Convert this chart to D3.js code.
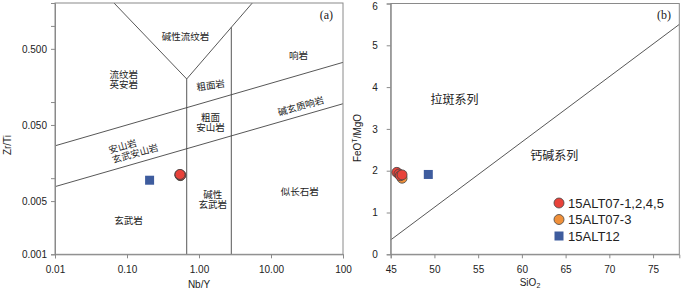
<!DOCTYPE html>
<html>
<head>
<meta charset="utf-8">
<script src="https://cdn.jsdelivr.net/npm/d3@7"></script>
<style>
  body { margin: 0; background: #fff; }
  svg text { font-family: "Liberation Sans", Arial, sans-serif; fill: #222; }
  .cn { font-family: "Noto Sans CJK SC", sans-serif; }
</style>
</head>
<body>
<div id="chart"></div>
<script>
// ---- data: panel (a) Zr/Ti vs Nb/Y ----
const nbyTicks = [0.01, 0.1, 1, 10, 100];
const nbyTickLabels = ["0.01", "0.10", "1.00", "10.00", "100"];
const zrtiTicks = [0.001, 0.005, 0.01, 0.05, 0.1, 0.5, 1];
const zrtiTickLabels = ["0.001", "0.005", "", "0.050", "", "0.500", ""];

// field boundaries [Nb/Y, Zr/Ti]
const boundaryA = [
    [[0.066, 2], [0.675, 0.201], [5.5, 2]],
    [[0.675, 0.201], [0.675, 0.001]],
    [[2.81, 0.96], [2.81, 0.001]],
    [[0.01, 0.0266], [100, 0.332]],
    [[0.01, 0.00774], [100, 0.095]]
];

// samples
const redA = [[0.54, 0.0111], [0.55, 0.0109], [0.56, 0.0110], [0.545, 0.0112]];
const orangeA = [[0.55, 0.0108]];
const blueA = [[0.206, 0.0094]];

// field names: [text, Nb/Y, Zr/Ti, rotate]
const fieldsA = [
    ["碱性流纹岩", 0.65, 0.72, 0],
    ["响岩", 24, 0.41, 0],
    ["流纹岩", 0.09, 0.23, 0],
    ["英安岩", 0.09, 0.17, 0],
    ["粗面岩", 1.45, 0.165, -8],
    ["碱玄质响岩", 26, 0.088, -16],
    ["粗面", 1.45, 0.062, 0],
    ["安山岩", 1.45, 0.046, 0],
    ["安山岩", 0.087, 0.026, -16],
    ["玄武安山岩", 0.13, 0.021, -16],
    ["碱性", 1.55, 0.0061, 0],
    ["玄武岩", 1.55, 0.0045, 0],
    ["似长石岩", 25, 0.0066, 0],
    ["玄武岩", 0.105, 0.0028, 0]
];

// ---- data: panel (b) FeOT/MgO vs SiO2 ----
const sioTicks = [45, 50, 55, 60, 65, 70, 75];
const feoTicks = [0, 1, 2, 3, 4, 5, 6];
const boundaryB = [[45, 0.344], [78, 5.50]];
const redB = [[45.7, 1.96], [45.95, 1.92], [46.1, 1.88], [46.3, 1.9]];
const orangeB = [[46.3, 1.82]];
const blueB = [[49.3, 1.91]];
const fieldsB = [["拉斑系列", 52.3, 3.7], ["钙碱系列", 63.7, 2.35]];

const legendItems = [
    ["15ALT07-1,2,4,5", "circle", "#e8423a"],
    ["15ALT07-3", "circle", "#f0903a"],
    ["15ALT12", "square", "#3e5c9e"]
];

const width = 700, height = 291;
const svg = d3.select("#chart").append("svg")
    .attr("width", width)
    .attr("height", height);

const frameColor = "#8a8a8a";
const lineColor = "#444";

function drawMarks(g, x, y, red, orange, blue) {
    g.selectAll(".orange").data(orange).join("circle")
        .attr("cx", d => x(d[0])).attr("cy", d => y(d[1])).attr("r", 5)
        .attr("fill", "#f0903a").attr("stroke", "#444").attr("stroke-width", 0.8);
    g.selectAll(".red").data(red).join("circle")
        .attr("class", "red")
        .attr("cx", d => x(d[0])).attr("cy", d => y(d[1])).attr("r", 5)
        .attr("fill", "#e8423a").attr("stroke", "#444").attr("stroke-width", 0.8);
    g.selectAll(".blue").data(blue).join("rect")
        .attr("class", "blue")
        .attr("x", d => x(d[0]) - 4.5).attr("y", d => y(d[1]) - 4.5)
        .attr("width", 9).attr("height", 9)
        .attr("fill", "#3e5c9e");
}

function frame(x0, x1, y0, y1) {
    svg.append("rect")
        .attr("x", x0).attr("y", y1)
        .attr("width", x1 - x0).attr("height", y0 - y1)
        .attr("fill", "none").attr("stroke", frameColor).attr("stroke-width", 1);
}

function styleAxis(g) {
    g.select(".domain").attr("stroke", frameColor);
    g.selectAll("line").attr("stroke", frameColor);
    g.selectAll("text").attr("font-size", 10).attr("fill", "#222")
        .attr("font-family", "Liberation Sans, Arial, sans-serif");
}

// ---------- panel (a) ----------
const xA = d3.scaleLog().domain([0.01, 100]).range([55, 343]);
const yA = d3.scaleLog().domain([0.001, 2]).range([254.3, 3]);

const lineA = d3.line().x(d => xA(d[0])).y(d => yA(d[1]));
svg.append("g").selectAll("path").data(boundaryA).join("path")
    .attr("d", lineA).attr("fill", "none")
    .attr("stroke", lineColor).attr("stroke-width", 0.9);

frame(55, 343, 254.3, 3);

svg.append("g")
    .attr("transform", "translate(0,254.3)")
    .call(d3.axisBottom(xA).tickValues(nbyTicks).tickSize(4).tickPadding(8)
        .tickFormat((d, i) => nbyTickLabels[i]))
    .call(styleAxis);

svg.append("g")
    .attr("transform", "translate(55,0)")
    .call(d3.axisLeft(yA).tickValues(zrtiTicks).tickSize(4).tickPadding(4)
        .tickFormat((d, i) => zrtiTickLabels[i]))
    .call(styleAxis);

svg.append("text")
    .attr("x", 199).attr("y", 288)
    .attr("text-anchor", "middle").attr("font-size", 10)
    .text("Nb/Y");

svg.append("text")
    .attr("transform", "translate(11,145) rotate(-90)")
    .attr("text-anchor", "middle").attr("font-size", 10)
    .text("Zr/Ti");

svg.append("text")
    .attr("x", 333).attr("y", 19)
    .attr("text-anchor", "end").attr("font-size", 12)
    .style("font-family", "Liberation Serif, serif")
    .text("(a)");

svg.append("g").selectAll("text").data(fieldsA).join("text")
    .attr("class", "cn")
    .attr("transform", d => `translate(${xA(d[1])},${yA(d[2])}) rotate(${d[3]})`)
    .attr("text-anchor", "middle").attr("dy", "0.35em")
    .attr("font-size", 9.5)
    .text(d => d[0]);

drawMarks(svg.append("g"), xA, yA, redA, orangeA, blueA);

// ---------- panel (b) ----------
const xB = d3.scaleLinear().domain([45, 78]).range([390.7, 679.3]);
const yB = d3.scaleLinear().domain([0, 6]).range([254.3, 3.5]);

svg.append("path")
    .datum(boundaryB)
    .attr("d", d3.line().x(d => xB(d[0])).y(d => yB(d[1])))
    .attr("fill", "none").attr("stroke", lineColor).attr("stroke-width", 0.9);

frame(390.7, 679.3, 254.3, 3.5);

svg.append("g")
    .attr("transform", "translate(0,254.3)")
    .call(d3.axisBottom(xB).tickValues(sioTicks).tickSize(4).tickPadding(8)
        .tickFormat(d3.format("d")))
    .call(styleAxis);

svg.append("g")
    .attr("transform", "translate(390.7,0)")
    .call(d3.axisLeft(yB).tickValues(feoTicks).tickSize(4).tickPadding(9)
        .tickFormat(d3.format("d")))
    .call(styleAxis)
    .call(g => g.selectAll("text").filter(d => d === 6).attr("dy", "0.55em"));

const sioLabel = svg.append("text")
    .attr("x", 530).attr("y", 286)
    .attr("text-anchor", "middle").attr("font-size", 10);
sioLabel.append("tspan").text("SiO");
sioLabel.append("tspan").attr("font-size", 7).attr("dy", 2).text("2");

const feoLabel = svg.append("text")
    .attr("transform", "translate(361,138) rotate(-90)")
    .attr("text-anchor", "middle").attr("font-size", 10);
feoLabel.append("tspan").text("FeO");
feoLabel.append("tspan").attr("font-size", 7).attr("dy", -4).text("T");
feoLabel.append("tspan").attr("dy", 4).text("/MgO");

svg.append("text")
    .attr("x", 671).attr("y", 19)
    .attr("text-anchor", "end").attr("font-size", 12)
    .style("font-family", "Liberation Serif, serif")
    .text("(b)");

svg.append("g").selectAll("text").data(fieldsB).join("text")
    .attr("class", "cn")
    .attr("x", d => xB(d[1])).attr("y", d => yB(d[2]))
    .attr("text-anchor", "middle").attr("dy", "0.35em")
    .attr("font-size", 12)
    .text(d => d[0]);

drawMarks(svg.append("g"), xB, yB, redB, orangeB, blueB);

// legend
const legend = svg.append("g").attr("transform", "translate(559,203)");
const rows = legend.selectAll("g").data(legendItems).join("g")
    .attr("transform", (d, i) => `translate(0,${i * 16.5})`);
rows.filter(d => d[1] === "circle").append("circle")
    .attr("r", 5).attr("fill", d => d[2])
    .attr("stroke", "#444").attr("stroke-width", 0.8);
rows.filter(d => d[1] === "square").append("rect")
    .attr("x", -4.5).attr("y", -4.5).attr("width", 9).attr("height", 9)
    .attr("fill", d => d[2]);
rows.append("text")
    .attr("x", 9).attr("dy", "0.36em")
    .attr("font-size", 13)
    .text(d => d[0]);
</script>
</body>
</html>
